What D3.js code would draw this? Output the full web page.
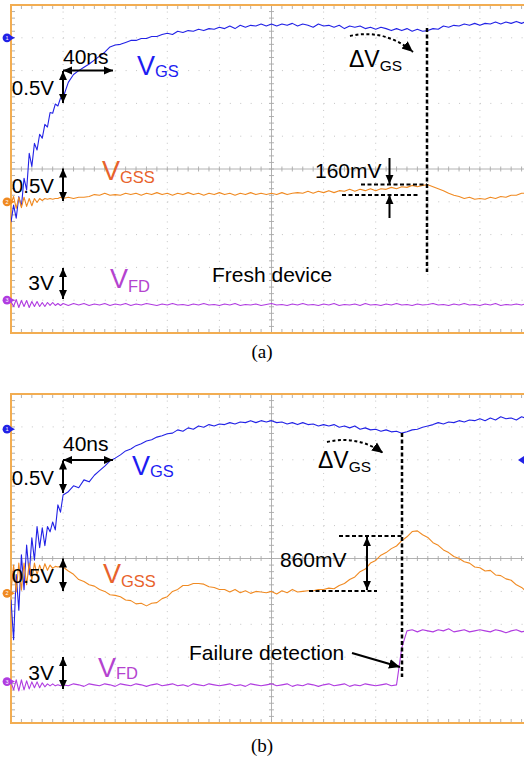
<!DOCTYPE html>
<html><head><meta charset="utf-8">
<script src="https://cdn.jsdelivr.net/npm/d3@7"></script>
<style>
body{margin:0;background:#fff}
svg{display:block}
text{font-family:"Liberation Sans",Arial,sans-serif}
text.cap{font-family:"Liberation Serif","Times New Roman",serif}
</style>
</head><body>
<svg id="chart" width="524" height="762"></svg>
<script>
// ---------------- DATA ----------------
// sample times (ns), 40 ns / div, 10 divisions
const timeNs = [0,2,4,6,8,10,12,14,16,18,20,
22,24,26,28,30,32,34,36,38,40,
44,48,52,56,60,64,68,72,76,80,
84,88,92,96,100,104,108,112,116,120,
124,128,132,136,140,144,148,152,156,160,
164,168,172,176,180,184,188,192,196,200,
204,208,212,216,220,224,228,232,236,240,
244,248,252,256,260,264,268,272,276,280,
284,288,292,296,300,304,308,312,316,320,
324,328,332,336,340,344,348,352,356,360,
364,368,372,376,380,384,388,392,396,400];

// (a) Fresh device, volts relative to channel marker
const vgsFresh = [-2.81,-2.55,-2.75,-2.42,-2.57,-2.14,-2.32,-1.76,-1.96,-1.61,-1.71,
-1.47,-1.53,-1.32,-1.36,-1.14,-1.15,-1.01,-1.04,-0.92,-0.91,
-0.68,-0.56,-0.50,-0.45,-0.40,-0.34,-0.28,-0.22,-0.14,-0.11,
-0.10,-0.07,-0.04,-0.04,-0.01,-0.01,0.02,0.02,0.05,0.07,
0.05,0.10,0.08,0.11,0.10,0.13,0.11,0.14,0.13,0.16,
0.14,0.18,0.14,0.19,0.16,0.19,0.18,0.21,0.18,0.21,
0.18,0.21,0.19,0.22,0.18,0.21,0.19,0.16,0.21,0.18,
0.19,0.16,0.19,0.14,0.18,0.16,0.18,0.14,0.16,0.13,
0.16,0.14,0.11,0.14,0.11,0.14,0.10,0.13,0.10,0.11,
0.14,0.13,0.18,0.16,0.19,0.18,0.21,0.19,0.22,0.19,
0.22,0.21,0.24,0.21,0.24,0.22,0.25,0.22,0.25,0.24];

const vgssFresh = [-0.03,0.08,-0.10,0.07,-0.09,0.07,-0.07,0.05,-0.06,0.05,-0.01,
0.05,0.02,0.05,0.04,0.05,0.04,0.05,0.05,0.07,0.05,
0.07,0.05,0.07,0.07,0.08,0.11,0.10,0.13,0.10,0.11,
0.10,0.13,0.11,0.13,0.10,0.13,0.11,0.14,0.11,0.13,
0.10,0.13,0.11,0.14,0.11,0.13,0.10,0.13,0.11,0.14,
0.11,0.13,0.10,0.13,0.11,0.14,0.11,0.13,0.11,0.13,
0.11,0.14,0.11,0.13,0.14,0.13,0.16,0.13,0.16,0.14,
0.17,0.14,0.17,0.16,0.19,0.16,0.19,0.17,0.20,0.17,
0.20,0.19,0.22,0.20,0.23,0.22,0.25,0.23,0.25,0.26,
0.23,0.20,0.17,0.13,0.10,0.08,0.05,0.07,0.04,0.05,
0.04,0.07,0.05,0.08,0.07,0.10,0.10,0.13,0.13,0.14];

const vfdFresh = [-0.12,-0.58,0.06,-0.67,-0.03,-0.58,-0.03,-0.67,-0.12,-0.58,-0.12,
-0.58,-0.21,-0.58,-0.21,-0.48,-0.21,-0.48,-0.30,-0.48,-0.30,
-0.48,-0.30,-0.44,-0.30,-0.48,-0.35,-0.44,-0.30,-0.48,-0.35,
-0.44,-0.30,-0.48,-0.35,-0.44,-0.30,-0.39,-0.48,-0.35,-0.44,
-0.30,-0.44,-0.39,-0.48,-0.35,-0.44,-0.30,-0.44,-0.39,-0.48,
-0.35,-0.44,-0.30,-0.48,-0.39,-0.44,-0.35,-0.48,-0.39,-0.30,
-0.44,-0.39,-0.48,-0.35,-0.44,-0.30,-0.44,-0.39,-0.48,-0.35,
-0.44,-0.30,-0.48,-0.39,-0.44,-0.35,-0.48,-0.30,-0.44,-0.39,
-0.48,-0.35,-0.44,-0.30,-0.44,-0.39,-0.48,-0.35,-0.44,-0.39,
-0.30,-0.44,-0.39,-0.48,-0.35,-0.44,-0.30,-0.44,-0.39,-0.48,
-0.35,-0.44,-0.30,-0.48,-0.39,-0.44,-0.35,-0.44,-0.30,-0.39];

// (b) Failure detection
const vgsFail = [-2.59,-3.20,-2.21,-2.75,-1.91,-2.44,-1.76,-2.21,-1.65,-1.99,-1.48,
-1.80,-1.50,-1.77,-1.48,-1.56,-1.41,-1.53,-1.15,-1.26,-1.00,
-0.95,-0.86,-0.89,-0.77,-0.80,-0.70,-0.63,-0.56,-0.48,-0.44,
-0.39,-0.33,-0.30,-0.25,-0.22,-0.18,-0.16,-0.12,-0.10,-0.07,
-0.06,-0.01,-0.03,0.02,0.00,0.05,0.03,0.07,0.05,0.08,
0.07,0.10,0.08,0.11,0.10,0.13,0.10,0.13,0.11,0.13,
0.10,0.11,0.08,0.10,0.07,0.10,0.07,0.08,0.05,0.07,
0.05,0.07,0.03,0.05,0.02,0.05,0.00,0.02,-0.01,0.00,
-0.03,-0.01,-0.04,-0.03,-0.06,-0.04,-0.01,0.00,0.03,0.05,
0.07,0.10,0.08,0.11,0.10,0.13,0.11,0.14,0.13,0.16,
0.13,0.17,0.14,0.19,0.16,0.17,0.14,0.19,0.16,0.17];

const vgssFail = [0.05,0.43,0.02,0.46,0.05,0.46,0.13,0.46,0.20,0.46,0.28,
0.43,0.32,0.45,0.35,0.43,0.38,0.41,0.40,0.41,0.40,
0.34,0.29,0.21,0.18,0.13,0.11,0.06,0.03,-0.02,-0.03,
-0.05,-0.10,-0.11,-0.16,-0.15,-0.19,-0.15,-0.14,-0.08,-0.05,
0.03,0.06,0.12,0.12,0.15,0.15,0.14,0.10,0.09,0.06,
0.06,0.02,0.06,0.01,0.04,0.00,0.03,0.02,0.01,0.03,
-0.01,0.04,0.01,0.06,0.02,0.03,0.04,0.04,0.06,0.06,
0.08,0.07,0.12,0.15,0.21,0.25,0.33,0.37,0.46,0.50,
0.58,0.62,0.68,0.72,0.80,0.86,0.94,0.95,0.89,0.85,
0.77,0.73,0.66,0.62,0.56,0.53,0.48,0.46,0.40,0.39,
0.34,0.35,0.28,0.27,0.22,0.20,0.13,0.09,0.02,0.00];

const vfdFail = [-0.03,-0.76,0.16,-0.85,0.16,-0.76,0.06,-0.67,-0.03,-0.57,-0.03,
-0.57,-0.12,-0.48,-0.21,-0.39,-0.21,-0.39,-0.30,-0.39,-0.30,
-0.39,-0.21,-0.30,-0.44,-0.21,-0.30,-0.39,-0.21,-0.30,-0.44,
-0.21,-0.30,-0.39,-0.21,-0.30,-0.44,-0.30,-0.21,-0.39,-0.30,
-0.21,-0.39,-0.30,-0.44,-0.21,-0.30,-0.39,-0.21,-0.30,-0.39,
-0.30,-0.21,-0.39,-0.30,-0.44,-0.21,-0.30,-0.39,-0.30,-0.21,
-0.39,-0.30,-0.21,-0.44,-0.30,-0.39,-0.21,-0.30,-0.44,-0.30,
-0.21,-0.39,-0.30,-0.21,-0.44,-0.30,-0.39,-0.21,-0.30,-0.39,
-0.30,-0.21,-0.39,-0.30,3.07,4.62,4.72,4.53,4.72,4.62,
4.53,4.72,4.62,4.81,4.53,4.62,4.72,4.53,4.62,4.72,
4.62,4.53,4.72,4.62,4.44,4.62,4.72,4.53,4.62,4.53];

// channel settings (V/div) and marker (ground) position in divisions from centre
const channelNames = ["GS","GSS","FD"];
const voltsPerDiv = [0.5, 0.5, 3];
const scaleLabels = ["0.5V","0.5V","3V"];
const markerDivFresh = [4.0, -1.0, -4.0];
const markerDivFail = [3.93, -1.06, -3.74];
const captions = ["(a)","(b)"];

// ---------------- DRAWING ----------------
const svg = d3.select("#chart");
const COL = {gs:"#2222e6", gss:"#f08a22", fd:"#b03ce0",
             gsT:"#1d1df2", gssT:"#e8622c", fdT:"#b443cf",
             frame:"#f2ad52", grid:"#c4c4c4", tick:"#a9a9a9"};
const traceCols = [COL.gs, COL.gss, COL.fd];
const textCols = [COL.gsT, COL.gssT, COL.fdT];

const defs = svg.append("defs");
function mk(id, w){
  defs.append("marker").attr("id",id).attr("viewBox","0 0 10 10")
    .attr("refX",10).attr("refY",5).attr("markerUnits","userSpaceOnUse")
    .attr("markerWidth",w).attr("markerHeight",w).attr("orient","auto-start-reverse")
    .append("path").attr("d","M0,0.6L10,5L0,9.4Z").attr("fill","#000");
}
mk("ah",9); mk("ahBig",11);

const x = d3.scaleLinear().domain([0,400]).range([11,532]);

function panel(top, bottom, markerDiv, series, idx){
  const g = svg.append("g");
  const y = d3.scaleLinear().domain([-5,5]).range([bottom, top]);
  const minorY = (bottom-top)/50, minorX = (x(40)-x(0))/5;
  const clipId = "clip"+idx;
  defs.append("clipPath").attr("id",clipId).append("rect")
    .attr("x",x(0)).attr("y",top).attr("width",x(400)-x(0)).attr("height",bottom-top);

  // dotted grid
  d3.range(1,10).filter(k=>k!==5).forEach(k=>{
    g.append("line").attr("x1",x(k*40)).attr("x2",x(k*40)).attr("y1",top).attr("y2",bottom)
      .attr("stroke",COL.grid).attr("stroke-width",1).attr("stroke-dasharray",`1 ${minorY-1}`);
  });
  d3.range(-4,5).filter(k=>k!==0).forEach(k=>{
    g.append("line").attr("x1",x(0)).attr("x2",x(400)).attr("y1",y(k)).attr("y2",y(k))
      .attr("stroke",COL.grid).attr("stroke-width",1).attr("stroke-dasharray",`1 ${minorX-1}`);
  });
  // centre axes
  g.append("line").attr("x1",x(0)).attr("x2",x(400)).attr("y1",y(0)).attr("y2",y(0))
    .attr("stroke",COL.tick).attr("stroke-width",0.9);
  g.append("line").attr("x1",x(200)).attr("x2",x(200)).attr("y1",top).attr("y2",bottom)
    .attr("stroke",COL.tick).attr("stroke-width",0.9);
  // ticks
  const tk = g.append("g").attr("stroke",COL.tick).attr("stroke-width",0.9);
  d3.range(1,50).forEach(i=>{
    const xx = x(0)+i*minorX;
    tk.append("line").attr("x1",xx).attr("x2",xx).attr("y1",y(0)-2.5).attr("y2",y(0)+2.5);
    tk.append("line").attr("x1",xx).attr("x2",xx).attr("y1",top).attr("y2",top+4);
    tk.append("line").attr("x1",xx).attr("x2",xx).attr("y1",bottom-4).attr("y2",bottom);
    const yy = top+i*minorY;
    tk.append("line").attr("x1",x(200)-2.5).attr("x2",x(200)+2.5).attr("y1",yy).attr("y2",yy);
    tk.append("line").attr("x1",x(0)).attr("x2",x(0)+4).attr("y1",yy).attr("y2",yy);
  });
  // frame
  g.append("rect").attr("x",x(0)).attr("y",top).attr("width",x(400)-x(0)).attr("height",bottom-top)
    .attr("fill","none").attr("stroke",COL.frame).attr("stroke-width",2);

  // traces
  const tg = g.append("g").attr("clip-path",`url(#${clipId})`);
  series.forEach((vals,c)=>{
    const line = d3.line().x((d,i)=>x(timeNs[i])).y(d=>y(markerDiv[c]+d/voltsPerDiv[c]));
    tg.append("path").datum(vals).attr("d",line).attr("fill","none")
      .attr("stroke",traceCols[c]).attr("stroke-width",1.1).attr("stroke-linejoin","round");
  });
  // channel markers
  markerDiv.forEach((m,c)=>{
    const yy = y(m);
    g.append("path").attr("d",`M10,${yy-2.6}L15,${yy}L10,${yy+2.6}Z`).attr("fill",traceCols[c]);
    g.append("circle").attr("cx",7).attr("cy",yy).attr("r",4.4).attr("fill",traceCols[c]);
    g.append("text").attr("x",7).attr("y",yy+2).attr("text-anchor","middle")
      .attr("font-size",5.5).attr("fill","#fff").text(c+1);
  });
  return {g, y};
}

function arrow(g, x1,y1,x2,y2, both){
  const l = g.append("line").attr("x1",x1).attr("y1",y1).attr("x2",x2).attr("y2",y2)
    .attr("stroke","#000").attr("stroke-width",2).attr("marker-end","url(#ah)");
  if(both) l.attr("marker-start","url(#ah)");
}
function dashLine(g,x1,y1,x2,y2,w){
  g.append("line").attr("x1",x1).attr("y1",y1).attr("x2",x2).attr("y2",y2)
    .attr("stroke","#000").attr("stroke-width",w||2).attr("stroke-dasharray","4 2.5");
}
function label(g, xx, yy, txt, size){
  g.append("text").attr("x",xx).attr("y",yy).attr("font-size",size||21).attr("fill","#000").text(txt);
}
function chanLabel(g, xx, yy, c, dy){
  const t = g.append("text").attr("x",xx).attr("y",yy).attr("font-size",27).attr("fill",textCols[c]);
  t.append("tspan").text("V");
  t.append("tspan").attr("font-size",16.5).attr("dy",dy).text(channelNames[c]);
}
function deltaLabel(g, xx, yy){
  const t = g.append("text").attr("x",xx).attr("y",yy).attr("font-size",23).attr("fill","#000");
  t.append("tspan").text("\u0394V");
  t.append("tspan").attr("font-size",15.5).attr("dy",4).text("GS");
}

// ---- panel (a)
const A = panel(5, 333, markerDivFresh, [vgsFresh, vgssFresh, vfdFresh], 0);
{
  const g = A.g;
  arrow(g, 63,70.5,113,70.5,true);
  arrow(g, 63,71,63,103,true);
  arrow(g, 63,168.5,63,201,true);
  arrow(g, 63,268,63,299,true);
  label(g,63,64,"40ns");
  g.append("text").attr("x",54).attr("y",95).attr("text-anchor","end").attr("font-size",20.5).text(scaleLabels[0]);
  g.append("text").attr("x",54).attr("y",193).attr("text-anchor","end").attr("font-size",20.5).text(scaleLabels[1]);
  g.append("text").attr("x",54).attr("y",290).attr("text-anchor","end").attr("font-size",21).text(scaleLabels[2]);
  chanLabel(g,137,75,0,2);
  chanLabel(g,102,180,1,3);
  chanLabel(g,110,288,2,4);
  label(g,212,282,"Fresh device");
  label(g,315,178,"160mV");
  arrow(g,389.5,158,389.5,184,false);
  arrow(g,389.5,218,389.5,195,false);
  dashLine(g,361,184.5,427,184.5);
  dashLine(g,342,195,419,195);
  dashLine(g,427,28,427,272,2.5);
  deltaLabel(g,349,67);
  g.append("path").attr("d","M350,36 C372,31 394,36 413,52").attr("fill","none")
    .attr("stroke","#000").attr("stroke-width",2).attr("stroke-dasharray","3 2.5")
    .attr("marker-end","url(#ahBig)");
}
svg.append("text").attr("class","cap").attr("x",262).attr("y",358).attr("text-anchor","middle")
  .attr("font-size",19).text(captions[0]);

// ---- panel (b)
const B = panel(394, 723, markerDivFail, [vgsFail, vgssFail, vfdFail], 1);
{
  const g = B.g;
  arrow(g, 63,460,113,460,true);
  arrow(g, 63,460.5,63,493,true);
  arrow(g, 63,558.5,63,591,true);
  arrow(g, 63,657,63,689,true);
  label(g,63,451,"40ns");
  g.append("text").attr("x",54).attr("y",485).attr("text-anchor","end").attr("font-size",20.5).text(scaleLabels[0]);
  g.append("text").attr("x",54).attr("y",583).attr("text-anchor","end").attr("font-size",20.5).text(scaleLabels[1]);
  g.append("text").attr("x",54).attr("y",680).attr("text-anchor","end").attr("font-size",21).text(scaleLabels[2]);
  chanLabel(g,132,475,0,2);
  chanLabel(g,103,583,1,4);
  chanLabel(g,98,677,2,2);
  label(g,280,567,"860mV");
  arrow(g,367,537,367,590,true);
  dashLine(g,339,536,402,536);
  dashLine(g,309,591,377,591);
  dashLine(g,402,433,402,677,2.5);
  deltaLabel(g,318,468);
  g.append("path").attr("d","M327,442 C349,437 368,442 383,453").attr("fill","none")
    .attr("stroke","#000").attr("stroke-width",2).attr("stroke-dasharray","3 2.5")
    .attr("marker-end","url(#ahBig)");
  label(g,189,660,"Failure detection");
  g.append("line").attr("x1",352).attr("y1",653).attr("x2",400).attr("y2",667)
    .attr("stroke","#000").attr("stroke-width",2.2).attr("marker-end","url(#ahBig)");
  g.append("path").attr("d","M518,460L524,456L524,464Z").attr("fill",COL.gs);
}
svg.append("text").attr("class","cap").attr("x",262).attr("y",752).attr("text-anchor","middle")
  .attr("font-size",19).text(captions[1]);
</script>
</body></html>
